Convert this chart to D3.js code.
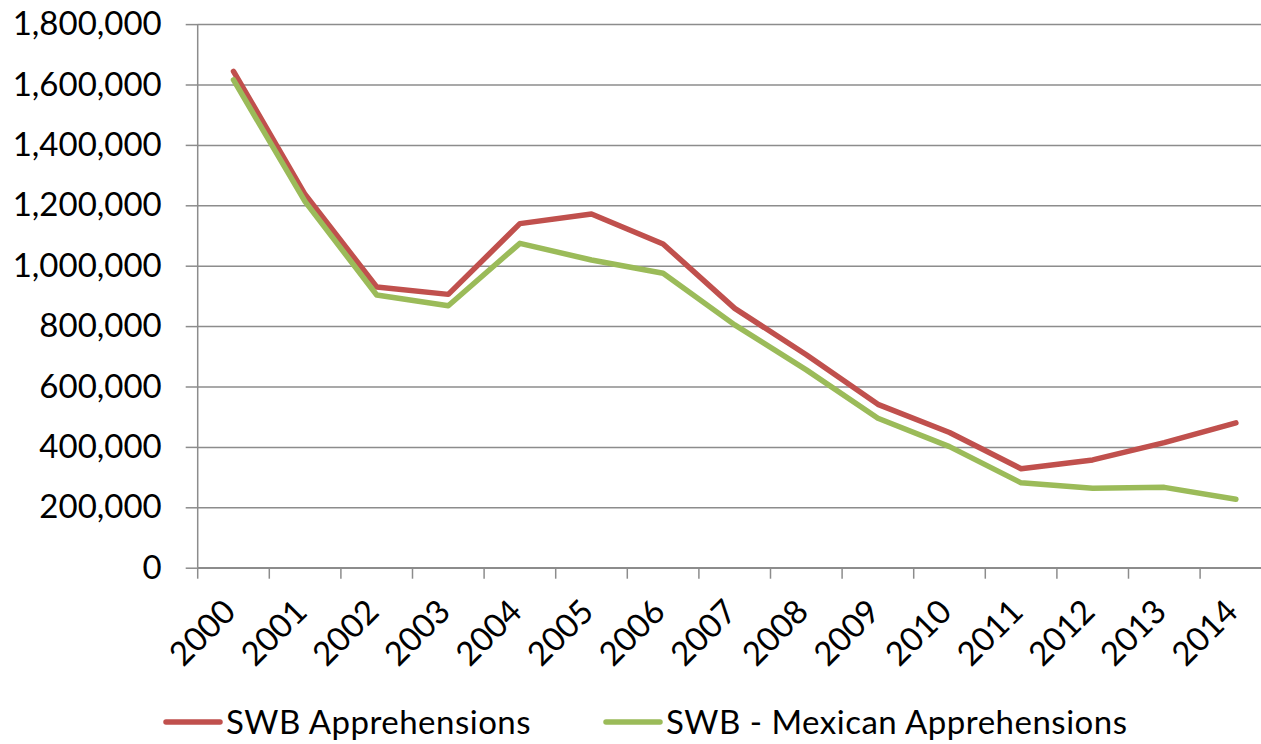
<!DOCTYPE html>
<html>
<head>
<meta charset="utf-8">
<script src="https://d3js.org/d3.v7.min.js"></script>
<style>
  body { margin: 0; background: #fff; }
  svg { display: block; font-family: Lato, "Open Sans", sans-serif; }
</style>
</head>
<body>
<svg id="vis"></svg>
<script>
const years = ["2000", "2001", "2002", "2003", "2004", "2005", "2006", "2007",
  "2008", "2009", "2010", "2011", "2012", "2013", "2014"];

const swbTotal = [1643679, 1235718, 929809, 905065, 1139282, 1171396, 1071972,
  858638, 705005, 540865, 447731, 327577, 356873, 414397, 479371];

const swbMexican = [1615000, 1212000, 903000, 867500, 1074000, 1019000, 975000,
  804000, 655000, 495000, 401000, 281000, 263000, 266000, 226500];

const yTicks = [0, 200000, 400000, 600000, 800000, 1000000, 1200000, 1400000,
  1600000, 1800000];

const seriesNames = ["SWB Apprehensions", "SWB - Mexican Apprehensions"];
const seriesColors = ["#c0504d", "#9bbb59"];

let config = { svg: {}, plot: {} };
config.svg.width = 1261;
config.svg.height = 744;
config.plot.left = 197.7;
config.plot.right = 1271.7;
config.plot.top = 24.1;
config.plot.bottom = 567.7;

const svg = d3.select("svg#vis")
  .attr("width", config.svg.width)
  .attr("height", config.svg.height);

let scale = {};
scale.x = d3.scaleBand()
  .domain(years)
  .range([config.plot.left, config.plot.right]);
scale.y = d3.scaleLinear()
  .domain([0, 1800000])
  .range([config.plot.bottom, config.plot.top]);

const gridColor = "#8c8c8c";

// horizontal gridlines + y ticks
let gy = svg.append("g")
  .attr("transform", translate(config.plot.left, 0))
  .call(d3.axisLeft(scale.y)
    .tickValues(yTicks)
    .tickSize(12)
    .tickPadding(24)
    .tickFormat(d3.format(",")));
gy.select(".domain").remove();
gy.selectAll(".tick line").attr("stroke", gridColor).attr("stroke-width", 1.5);
gy.selectAll(".tick").append("line")
  .attr("x1", 0)
  .attr("x2", config.plot.right - config.plot.left)
  .attr("stroke", gridColor)
  .attr("stroke-width", 1.5);
gy.selectAll(".tick text")
  .attr("font-size", "33px")
  .attr("fill", "#000")
  .attr("font-family", "Lato, sans-serif");

// y axis line
svg.append("line")
  .attr("x1", config.plot.left).attr("x2", config.plot.left)
  .attr("y1", config.plot.top).attr("y2", config.plot.bottom)
  .attr("stroke", gridColor).attr("stroke-width", 1.5);

// x axis: ticks at band edges
const edges = years.map(y => scale.x(y)).concat([config.plot.right]);
let gx = svg.append("g");
gx.append("line")
  .attr("x1", config.plot.left).attr("x2", config.plot.right)
  .attr("y1", config.plot.bottom).attr("y2", config.plot.bottom)
  .attr("stroke", gridColor).attr("stroke-width", 1.5);
gx.selectAll("line.tick")
  .data(edges)
  .enter()
  .append("line")
  .attr("class", "tick")
  .attr("x1", d => d).attr("x2", d => d)
  .attr("y1", config.plot.bottom).attr("y2", config.plot.bottom + 11)
  .attr("stroke", gridColor).attr("stroke-width", 1.5);

gx.selectAll("text")
  .data(years)
  .enter()
  .append("text")
  .attr("transform", d => translate(scale.x(d) + scale.x.bandwidth() / 2 + 4, config.plot.bottom + 46) + " rotate(-45)")
  .attr("text-anchor", "end")
  .attr("font-size", "33px")
  .attr("fill", "#000")
  .text(d => d);

// lines
const line = d3.line()
  .x((d, i) => scale.x(years[i]) + scale.x.bandwidth() / 2)
  .y(d => scale.y(d));

[swbTotal, swbMexican].forEach((series, i) => {
  svg.append("path")
    .datum(series)
    .attr("fill", "none")
    .attr("stroke", seriesColors[i])
    .attr("stroke-width", 5.5)
    .attr("stroke-linejoin", "round")
    .attr("stroke-linecap", "round")
    .attr("d", line);
});

// legend
const legendX = [166, 606];
let legend = svg.append("g").attr("id", "legend");
seriesNames.forEach((name, i) => {
  legend.append("line")
    .attr("x1", legendX[i]).attr("x2", legendX[i] + 54)
    .attr("y1", 722).attr("y2", 722)
    .attr("stroke", seriesColors[i])
    .attr("stroke-width", 5.5)
    .attr("stroke-linecap", "round");
  legend.append("text")
    .attr("x", legendX[i] + 60)
    .attr("y", 734)
    .attr("font-size", "33px")
    .attr("letter-spacing", "0.5px")
    .attr("fill", "#000")
    .text(name);
});

function translate(x, y) {
  return 'translate(' + x + ',' + y + ')';
}
</script>
</body>
</html>
